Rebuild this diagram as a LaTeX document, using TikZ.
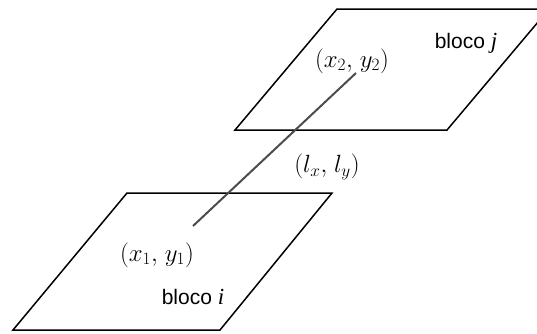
\documentclass[tikz,border=0pt]{standalone}
\usepackage{fontspec}
\setmainfont{Liberation Sans}
\newfontfamily\serifitfam{Liberation Serif}
\begin{document}
\begin{tikzpicture}[x=1pt,y=-1pt,
  plane/.style={draw=black,line width=1.5pt,line join=miter},
  link/.style={draw=black!70,line width=2pt},
  mathlbl/.style={inner sep=0pt,font=\fontsize{24}{27}\selectfont},
  blocolbl/.style={inner sep=0pt,font=\fontsize{21}{24}\selectfont}]
\useasboundingbox (0,0) rectangle (537,333);
\clip (0,0) rectangle (537,333);
% upper block j
\coordinate (ja) at (235,130);
\coordinate (jb) at (447,130);
\coordinate (jc) at (549,9);
\coordinate (jd) at (337,9);
\draw[plane] (ja) -- (jb) -- (jc) -- (jd) -- cycle;
% lower block i
\coordinate (ia) at (13,330);
\coordinate (ib) at (220,330);
\coordinate (ic) at (332,193);
\coordinate (id) at (127,193);
\draw[plane] (ia) -- (ib) -- (ic) -- (id) -- cycle;
% link
\coordinate (p1) at (193,226);
\coordinate (p2) at (356,73);
\draw[link] (p1) -- (p2);
% labels
\node[mathlbl] (l2) at (352,61) {$(x_2,\mkern2mu y_2)$};
\node[mathlbl] (l1) at (157,255) {$(x_1,\mkern2mu y_1)$};
\node[mathlbl] (ll) at (327,167) {$(l_x,\mkern2mu l_y)$};
\node[blocolbl] (bj) at (466,43) {bloco {\serifitfam\itshape\fontsize{23}{24}\selectfont j}};
\node[blocolbl] (bi) at (193,297) {bloco {\serifitfam\itshape\fontsize{23}{24}\selectfont i}};
\end{tikzpicture}
\end{document}
